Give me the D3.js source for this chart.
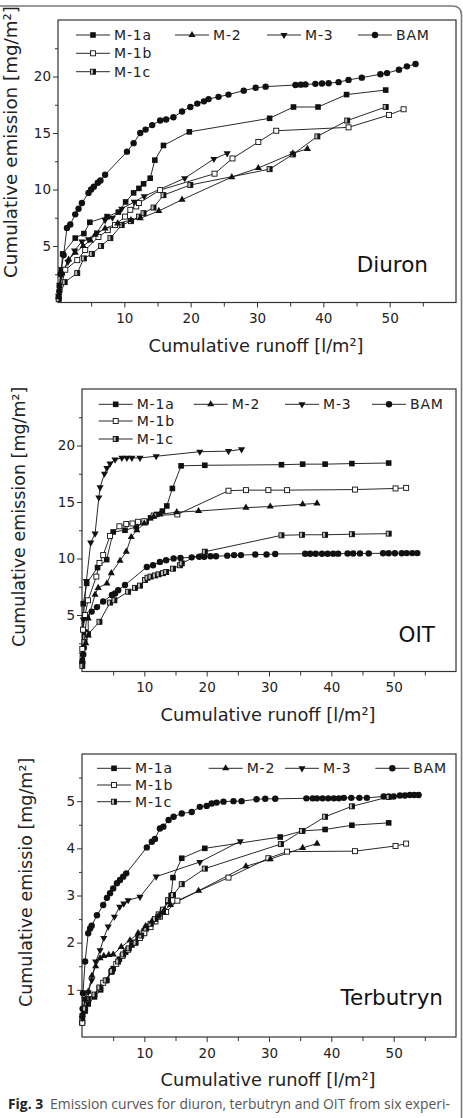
<!DOCTYPE html>
<html>
<head>
<meta charset="utf-8">
<script src="https://cdn.jsdelivr.net/npm/d3@7"></script>
<style>
  body { margin: 0; background: #fff; }
</style>
</head>
<body>
<div id="fig"></div>
<script>
/*
*   Three stacked panels: cumulative emission vs cumulative runoff
*   for Diuron, OIT and Terbutryn, six experiments each.
*/

// ---- data, [runoff l/m², emission mg/m²] ----
var diuronM1a = [[0.2,1.5],[0.5,2.9],[0.7,4.3],[2.6,5.7],[3.9,6.1],[4.8,7.1],[7.4,7.6],[9.1,8.0],[10.2,8.9],[11.4,9.7],[12.2,10.1],[12.9,10.5],[13.9,11.0],[14.6,12.6],[15.9,13.9],[19.8,15.1],[31.9,16.3],[35.5,17.3],[39.2,17.3],[43.5,18.4],[49.4,18.8]];
var diuronM2 = [[0.1,0.5],[0.6,2.6],[1.6,3.8],[2.6,4.4],[3.8,5.0],[4.9,5.5],[5.6,6.0],[7.1,6.55],[9.0,7.0],[11.0,7.3],[12.4,7.45],[15.2,8.1],[18.7,9.1],[26.2,11.1],[30.2,11.9],[35.4,13.2],[37.6,13.6]];
var diuronM3 = [[0.1,0.6],[0.5,2.4],[1.5,3.6],[2.5,4.6],[3.6,5.4],[4.6,5.6],[5.9,6.2],[7.1,7.3],[8.2,7.5],[9.6,8.3],[11.5,8.9],[13.0,9.4],[19.1,11.0],[23.5,12.7],[25.5,13.2]];
var diuronM1b = [[0.1,0.5],[1.1,2.9],[2.9,3.75],[4.1,4.65],[6.1,5.8],[7.5,6.4],[8.6,6.85],[10.1,7.6],[10.9,8.2],[11.8,8.5],[12.2,8.8],[15.4,9.95],[23.6,11.4],[26.3,12.75],[30.2,14.2],[32.9,15.2],[43.8,15.5],[49.9,16.6],[52.1,17.1]];
var diuronM1c = [[0.1,0.3],[1.0,1.8],[2.9,2.6],[3.9,3.9],[5.1,4.3],[6.5,5.0],[7.9,5.7],[9.6,6.85],[11.0,7.2],[12.2,7.6],[12.9,7.9],[14.4,8.4],[15.9,9.5],[19.95,10.4],[31.9,11.8],[35.4,13.1],[39.1,14.7],[43.6,16.1],[49.4,17.3]];
var diuronBAM = [[0.2,1.0],[0.4,2.5],[0.85,4.2],[1.35,6.6],[1.85,6.9],[2.6,7.8],[3.1,8.3],[3.6,8.8],[4.6,9.7],[5.0,10.0],[5.4,10.25],[6.0,10.6],[6.4,10.8],[7.1,11.3],[10.4,13.35],[11.4,14.1],[12.4,15.0],[13.2,15.3],[14.2,15.7],[15.4,16.1],[16.3,16.2],[17.4,16.4],[18.7,16.9],[19.95,17.3],[21.0,17.6],[22.0,17.8],[22.7,18.0],[24.2,18.2],[25.7,18.4],[28.0,18.75],[29.8,19.0],[31.3,19.1],[35.8,19.25],[36.6,19.28],[37.3,19.3],[38.8,19.35],[39.8,19.38],[40.8,19.4],[42.3,19.5],[43.8,19.7],[45.8,19.9],[48.6,20.2],[49.6,20.3],[51.4,20.6],[52.6,20.9],[53.9,21.1]];

var oitM1a = [[0.05,1.0],[0.2,6.0],[0.75,7.8],[2.5,9.2],[3.96,9.9],[5.0,12.35],[6.9,12.5],[8.7,12.8],[10.3,13.25],[11.0,13.6],[12.0,13.9],[12.9,14.2],[13.6,14.65],[14.5,16.2],[15.9,18.2],[19.7,18.25],[32.0,18.3],[35.4,18.35],[39.0,18.35],[43.3,18.4],[49.2,18.45]];
var oitM2 = [[0.1,1.5],[0.6,2.5],[1.0,3.2],[1.0,4.7],[2.1,6.8],[2.6,7.4],[4.0,7.8],[4.7,8.7],[6.1,9.8],[7.1,10.6],[7.9,11.9],[8.8,12.5],[10.0,13.1],[11.5,13.7],[12.5,13.9],[15.2,14.1],[18.7,14.2],[26.3,14.5],[30.2,14.6],[35.4,14.8],[37.7,14.87]];
var oitM3 = [[0.05,1.5],[0.2,4.6],[0.7,8.0],[1.4,11.4],[2.1,12.2],[2.7,15.4],[2.9,16.3],[3.6,17.5],[4.0,18.0],[4.5,18.4],[5.3,18.75],[6.4,18.9],[7.2,18.9],[8.0,18.9],[9.3,18.9],[11.9,19.05],[18.9,19.45],[23.5,19.5],[25.6,19.66]];
var oitM1b = [[0.05,2.0],[0.16,3.7],[0.5,5.0],[0.96,6.3],[2.3,8.4],[2.8,9.6],[3.4,10.3],[4.5,12.0],[6.0,12.85],[7.1,13.05],[8.1,13.1],[9.0,13.25],[10.0,13.3],[11.5,13.8],[15.3,13.9],[23.5,16.0],[26.3,16.05],[29.9,16.05],[32.9,16.05],[43.8,16.1],[50.3,16.2],[52.0,16.25]];
var oitM1c = [[0.05,0.5],[0.4,2.6],[0.96,3.3],[2.8,4.4],[4.5,6.1],[5.2,6.3],[7.4,7.06],[8.5,7.4],[9.3,7.6],[10.1,8.1],[10.5,8.3],[11.0,8.4],[11.7,8.5],[12.3,8.6],[13.0,8.7],[13.5,8.8],[14.6,9.1],[15.7,9.4],[16.0,9.57],[19.7,10.6],[32.0,12.05],[35.3,12.1],[39.0,12.1],[43.3,12.15],[49.2,12.2]];
var oitBAM = [[0.05,0.8],[0.2,1.5],[0.3,2.1],[0.5,3.5],[0.75,4.8],[1.55,5.3],[2.4,5.7],[3.4,6.2],[4.8,6.77],[5.3,6.9],[5.8,7.2],[6.9,7.65],[10.4,9.25],[11.4,9.4],[12.5,9.7],[13.5,9.85],[14.7,10.0],[15.8,10.05],[17.6,10.1],[18.8,10.15],[19.6,10.15],[20.6,10.2],[21.5,10.2],[23.3,10.25],[24.4,10.3],[25.5,10.3],[27.8,10.35],[29.6,10.35],[31.0,10.4],[35.8,10.42],[36.6,10.42],[37.5,10.42],[38.5,10.42],[39.4,10.42],[40.3,10.43],[41.1,10.43],[42.6,10.44],[43.5,10.44],[44.6,10.45],[46.0,10.45],[48.3,10.46],[49.2,10.46],[50.2,10.46],[51.3,10.47],[52.1,10.48],[53.0,10.48],[53.8,10.48]];

var terbM1a = [[0.05,0.3],[0.5,0.55],[1.0,0.7],[2.0,0.85],[3.0,1.0],[4.0,1.2],[5.0,1.45],[6.0,1.65],[7.0,1.8],[8.0,1.95],[9.0,2.1],[10.0,2.25],[10.8,2.35],[11.5,2.45],[12.2,2.55],[12.9,2.65],[13.8,2.87],[14.3,3.0],[14.6,3.38],[16.0,3.79],[19.7,4.0],[31.8,4.24],[35.4,4.37],[39.0,4.4],[43.3,4.49],[49.2,4.54]];
var terbM2 = [[0.1,0.5],[0.5,0.8],[1.0,0.96],[1.6,1.3],[2.2,1.5],[2.9,1.67],[3.5,1.72],[4.3,1.74],[5.0,1.75],[6.3,1.91],[7.7,2.05],[9.0,2.2],[10.2,2.35],[11.2,2.45],[12.2,2.55],[13.0,2.65],[14.2,2.8],[18.7,3.1],[26.3,3.62],[30.2,3.77],[35.4,4.01],[37.7,4.1]];
var terbM3 = [[0.05,0.4],[0.43,0.8],[1.0,0.95],[1.55,1.2],[2.2,1.6],[2.9,1.84],[3.5,2.1],[4.2,2.34],[5.2,2.55],[6.05,2.76],[6.7,2.83],[7.4,2.9],[9.3,2.97],[11.9,3.4],[18.9,3.71],[25.4,4.15]];
var terbM1b = [[0.05,0.3],[0.5,0.6],[1.0,0.8],[2.8,1.03],[3.4,1.15],[4.7,1.38],[5.5,1.55],[6.5,1.72],[7.4,1.85],[8.5,2.0],[9.3,2.1],[10.0,2.2],[11.0,2.33],[11.8,2.45],[12.5,2.55],[13.5,2.65],[15.3,2.89],[23.5,3.38],[29.9,3.79],[32.9,3.93],[43.8,3.94],[50.3,4.05],[52.0,4.1]];
var terbM1c = [[0.05,0.4],[0.5,0.6],[1.0,0.8],[2.0,0.9],[2.8,1.05],[3.8,1.2],[4.8,1.4],[5.8,1.6],[6.6,1.75],[7.5,1.88],[8.6,2.0],[9.5,2.15],[10.3,2.3],[11.0,2.4],[11.7,2.5],[12.3,2.6],[13.0,2.7],[13.8,2.9],[14.6,3.01],[16.0,3.24],[19.7,3.57],[31.9,4.09],[35.3,4.37],[39.0,4.67],[43.3,4.89],[49.2,5.09]];
var terbBAM = [[0.02,0.3],[0.1,0.6],[0.16,0.93],[0.5,1.6],[1.0,2.2],[1.3,2.3],[1.55,2.36],[2.4,2.58],[3.4,2.8],[4.0,2.95],[4.5,3.05],[5.0,3.15],[5.6,3.26],[6.1,3.33],[6.6,3.4],[7.1,3.47],[10.4,4.02],[11.2,4.14],[11.7,4.2],[12.5,4.42],[13.05,4.46],[13.9,4.6],[14.7,4.67],[16.0,4.74],[17.6,4.77],[18.9,4.88],[20.0,4.9],[20.8,4.95],[21.6,4.97],[22.7,4.99],[24.3,5.0],[25.6,5.0],[28.0,5.04],[29.4,5.05],[31.0,5.05],[36.0,5.06],[37.0,5.06],[37.7,5.06],[38.6,5.06],[39.5,5.06],[40.4,5.06],[41.2,5.06],[42.0,5.07],[43.2,5.07],[44.5,5.07],[45.7,5.07],[48.4,5.1],[49.2,5.1],[50.0,5.1],[51.0,5.12],[51.8,5.12],[52.6,5.13],[53.3,5.13],[54.0,5.13]];

// ---- ticks and labels ----
var runoffTicks = [10, 20, 30, 40, 50];
var runoffMinor = [5, 15, 25, 35, 45, 55];
var emissionTicks = [5, 10, 15, 20];
var emissionMinor = [2.5, 7.5, 12.5, 17.5, 22.5];
var terbTicks = [1, 2, 3, 4, 5];
var terbMinor = [0.5, 1.5, 2.5, 3.5, 4.5, 5.5];
var seriesNames = ["M-1a", "M-2", "M-3", "BAM", "M-1b", "M-1c"];
var xTitle = "Cumulative runoff [l/m\u00b2]";

var shapeOf = {"M-1a": "square", "M-2": "triUp", "M-3": "triDown", "BAM": "circle", "M-1b": "open", "M-1c": "half"};

//Layout of each panel (pixel boxes, legend columns, label spots)
var panels = [
  { label: "Diuron", labelX: 428, labelY: 272,
    series: {"BAM": diuronBAM, "M-1a": diuronM1a, "M-1b": diuronM1b, "M-1c": diuronM1c, "M-2": diuronM2, "M-3": diuronM3},
    yMax: 25, yTicks: emissionTicks, yMinor: emissionMinor,
    yTitle: "Cumulative emission [mg/m\u00b2]", yTitleX: 16.5, yTitleY: 278, yTitleSize: 18.3,
    box: {left: 58, top: 20, right: 456, bottom: 302.5},
    legendX: [114, 213, 305, 396], legendY: [35, 53.3, 71.7], xTitleX: 256 },
  { label: "OIT", labelX: 435, labelY: 642,
    series: {"BAM": oitBAM, "M-1a": oitM1a, "M-1b": oitM1b, "M-1c": oitM1c, "M-2": oitM2, "M-3": oitM3},
    yMax: 25, yTicks: emissionTicks, yMinor: emissionMinor,
    yTitle: "Cumulative emission [mg/m\u00b2]", yTitleX: 25, yTitleY: 647, yTitleSize: 17.5,
    box: {left: 82, top: 389, right: 456, bottom: 671.5},
    legendX: [136.7, 231.7, 323, 410], legendY: [404.3, 421, 439], xTitleX: 268 },
  { label: "Terbutryn", labelX: 443, labelY: 1005,
    series: {"BAM": terbBAM, "M-1a": terbM1a, "M-1b": terbM1b, "M-1c": terbM1c, "M-2": terbM2, "M-3": terbM3},
    yMax: 6, yTicks: terbTicks, yMinor: terbMinor,
    yTitle: "Cumulative emissio [mg/m\u00b2]", yTitleX: 32, yTitleY: 1007, yTitleSize: 17.5,
    box: {left: 82, top: 754, right: 456, bottom: 1037},
    legendX: [135, 246.7, 323, 413.3], legendY: [768.3, 785, 801.7], xTitleX: 268 }
];

var W = 463, H = 1118;
var svg = d3.select("#fig").append("svg")
  .attr("width", W).attr("height", H)
  .style("font-family", "'DejaVu Sans', Verdana, sans-serif");

//Page frame (rounded corner top right)
svg.append("path")
  .attr("d", "M-5,6 H452 Q461.5,6 461.5,15 V1125")
  .attr("fill", "none").attr("stroke", "#7a7a7a").attr("stroke-width", 1.6);

//Draw one marker of a given shape into a group
function marker(g, shape) {
  if (shape == "square") {
    g.append("rect").attr("x", -2.8).attr("y", -2.8).attr("width", 5.6).attr("height", 5.6).attr("fill", "#111");
  } else if (shape == "open") {
    g.append("rect").attr("x", -2.5).attr("y", -2.5).attr("width", 5).attr("height", 5)
      .attr("fill", "#fff").attr("stroke", "#111").attr("stroke-width", 0.9);
  } else if (shape == "half") {
    g.append("rect").attr("x", -2.5).attr("y", -2.5).attr("width", 5).attr("height", 5)
      .attr("fill", "#bbb").attr("stroke", "#111").attr("stroke-width", 0.9);
    g.append("rect").attr("x", 0).attr("y", -2.5).attr("width", 2.5).attr("height", 5).attr("fill", "#111");
  } else if (shape == "circle") {
    g.append("circle").attr("r", 3.2).attr("fill", "#111");
  } else if (shape == "triUp") {
    g.append("path").attr("d", d3.symbol(d3.symbolTriangle, 22)()).attr("fill", "#111");
  } else if (shape == "triDown") {
    g.append("path").attr("d", d3.symbol(d3.symbolTriangle, 22)()).attr("transform", "rotate(180)").attr("fill", "#111");
  }
}

panels.forEach(function(p) {
  var b = p.box;
  var x = d3.scaleLinear().domain([0, 60]).range([b.left, b.right]);
  var y = d3.scaleLinear().domain([0, p.yMax]).range([b.bottom, b.top]);

  //frame
  svg.append("rect")
    .attr("x", b.left).attr("y", b.top)
    .attr("width", b.right - b.left).attr("height", b.bottom - b.top)
    .attr("fill", "none").attr("stroke", "#333").attr("stroke-width", 1.2);

  //x axis, major + minor ticks
  var xa = svg.append("g").attr("transform", `translate(0, ${b.bottom})`)
    .call(d3.axisBottom(x).tickValues(runoffTicks).tickSize(5).tickPadding(6).tickFormat(d3.format("d")));
  var xm = svg.append("g").attr("transform", `translate(0, ${b.bottom})`)
    .call(d3.axisBottom(x).tickValues(runoffMinor).tickSize(4).tickFormat(""));

  //y axis
  var ya = svg.append("g").attr("transform", `translate(${b.left}, 0)`)
    .call(d3.axisLeft(y).tickValues(p.yTicks).tickSize(5).tickPadding(2).tickFormat(d3.format("d")));
  var ym = svg.append("g").attr("transform", `translate(${b.left}, 0)`)
    .call(d3.axisLeft(y).tickValues(p.yMinor).tickSize(3).tickFormat(""));

  [xa, xm, ya, ym].forEach(function(a) {
    a.select(".domain").remove();
    a.attr("font-family", null).attr("font-size", 13.5);
    a.selectAll("line").attr("stroke", "#333");
    a.selectAll("text").attr("fill", "#222");
  });

  //axis titles
  svg.append("text")
    .attr("x", p.xTitleX).attr("y", b.bottom + 49)
    .attr("text-anchor", "middle").attr("font-size", 17.8).attr("fill", "#222")
    .text(xTitle);
  svg.append("text")
    .attr("transform", `translate(${p.yTitleX}, ${p.yTitleY}) rotate(-90)`)
    .attr("text-anchor", "start").attr("font-size", p.yTitleSize).attr("fill", "#222")
    .text(p.yTitle);

  //compound label
  svg.append("text")
    .attr("x", p.labelX).attr("y", p.labelY)
    .attr("text-anchor", "end").attr("font-size", 21.5).attr("fill", "#111")
    .text(p.label);

  //series lines then markers
  var line = d3.line().x(d => x(d[0])).y(d => y(d[1]));
  var drawOrder = ["BAM", "M-1a", "M-1b", "M-1c", "M-2", "M-3"];
  drawOrder.forEach(function(name) {
    svg.append("path")
      .datum(p.series[name])
      .attr("d", line)
      .attr("fill", "none").attr("stroke", "#111").attr("stroke-width", 0.9);
  });
  drawOrder.forEach(function(name) {
    svg.append("g").selectAll("g")
      .data(p.series[name])
      .join("g")
      .attr("transform", d => `translate(${x(d[0])}, ${y(d[1])})`)
      .each(function() { marker(d3.select(this), shapeOf[name]); });
  });

  //legend: 4 in first row, then two under the first column
  seriesNames.forEach(function(name, i) {
    var tx = i < 4 ? p.legendX[i] : p.legendX[0];
    var ty = i < 4 ? p.legendY[0] : p.legendY[i - 3];
    var lg = svg.append("g");
    lg.append("line")
      .attr("x1", tx - 38).attr("x2", tx - 4).attr("y1", ty).attr("y2", ty)
      .attr("stroke", "#111").attr("stroke-width", 0.9);
    var m = lg.append("g").attr("transform", `translate(${tx - 21}, ${ty})`);
    marker(m, shapeOf[name]);
    lg.append("text")
      .attr("x", tx).attr("y", ty + 5)
      .attr("font-size", 14).attr("letter-spacing", 0.8).attr("fill", "#222")
      .text(name);
  });
});

//Caption (first line only is in view)
var cap = svg.append("text")
  .attr("x", 8).attr("y", 1109)
  .attr("font-family", "'Open Sans', sans-serif").attr("font-size", 14)
  .attr("textLength", 442).attr("lengthAdjust", "spacingAndGlyphs");
cap.append("tspan").attr("font-weight", "bold").attr("fill", "#222").text("Fig. 3");
cap.append("tspan").attr("fill", "#555").text("\u2002Emission curves for diuron, terbutryn and OIT from six experi-");
</script>
</body>
</html>
